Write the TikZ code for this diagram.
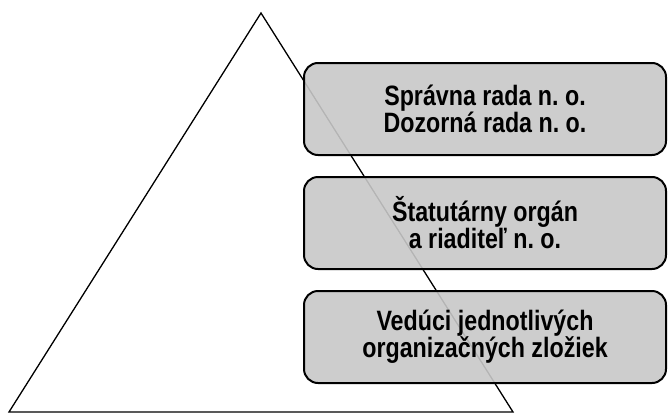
\documentclass[tikz,border=0pt]{standalone}
\usepackage{fontspec}
\setmainfont{Liberation Sans}
\newfontfamily\levelfont[FakeStretch=0.83]{Liberation Sans Bold}
\usetikzlibrary{positioning}
\frenchspacing

\definecolor{boxgray}{RGB}{200,200,200}
\tikzset{
    level/.style={draw, line width=2pt, rounded corners=14pt, fill=boxgray,
        fill opacity=0.9, text opacity=1, minimum width=362pt, minimum height=92pt,
        align=center, font=\levelfont\fontsize{28}{27}\selectfont},
}

\begin{document}
\begin{tikzpicture}[x=1pt,y=-1pt]

    \useasboundingbox (0,0) rectangle (668,415);

    \draw[line width=1.3pt, line join=miter] (9,412) -- (261,13) -- (513,412) -- cycle; %pyramid

    \node[level] (board) at (485,109) {Správna rada n. o.\\Dozorná rada n. o.};
    \node[level, below=20pt of board] (statutory) {Štatutárny orgán\\a riaditeľ n. o.};
    \node[level, below=20pt of statutory] (heads) {Vedúci jednotlivých\\organizačných zložiek};

\end{tikzpicture}
\end{document}
